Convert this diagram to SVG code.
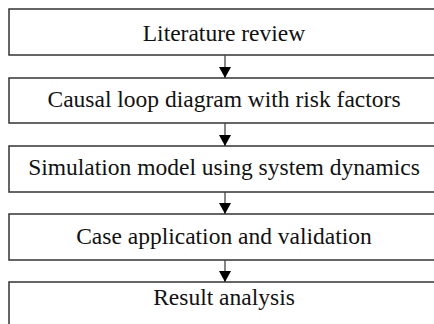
<svg xmlns="http://www.w3.org/2000/svg" width="434" height="324" viewBox="0 0 434 324">
<defs>
<marker id="ah" viewBox="0 0 11 12" refX="11" refY="6" markerWidth="11" markerHeight="12" markerUnits="userSpaceOnUse" orient="auto">
<path d="M0,0 L11,6 L0,12 Z" fill="#000"/>
</marker>
</defs>
<style>
.box{fill:#fff;stroke:#333;stroke-width:1.5}
.lbl{font-family:"Liberation Serif","Times New Roman",serif;font-size:23.5px;fill:#111;text-anchor:middle}
.conn{stroke:#444;stroke-width:1.3;fill:none}
</style>
<rect width="434" height="324" fill="#fff"/>
<g id="n1"><rect class="box" x="9" y="9" width="432" height="46"/><text class="lbl" x="224" y="41">Literature review</text></g>
<g id="n2"><rect class="box" x="9" y="78" width="432" height="45"/><text class="lbl" x="224" y="107">Causal loop diagram with risk factors</text></g>
<g id="n3"><rect class="box" x="9" y="146" width="432" height="46"/><text class="lbl" x="224" y="175">Simulation model using system dynamics</text></g>
<g id="n4"><rect class="box" x="9" y="214" width="432" height="46"/><text class="lbl" x="224" y="244">Case application and validation</text></g>
<g id="n5"><rect class="box" x="9" y="282" width="432" height="60"/><text class="lbl" x="224" y="305">Result analysis</text></g>
<g id="connectors">
<line class="conn" x1="225" y1="55" x2="225" y2="78" marker-end="url(#ah)"/>
<line class="conn" x1="225" y1="123" x2="225" y2="146" marker-end="url(#ah)"/>
<line class="conn" x1="225" y1="192" x2="225" y2="214" marker-end="url(#ah)"/>
<line class="conn" x1="225" y1="260" x2="225" y2="282" marker-end="url(#ah)"/>
</g>
</svg>
